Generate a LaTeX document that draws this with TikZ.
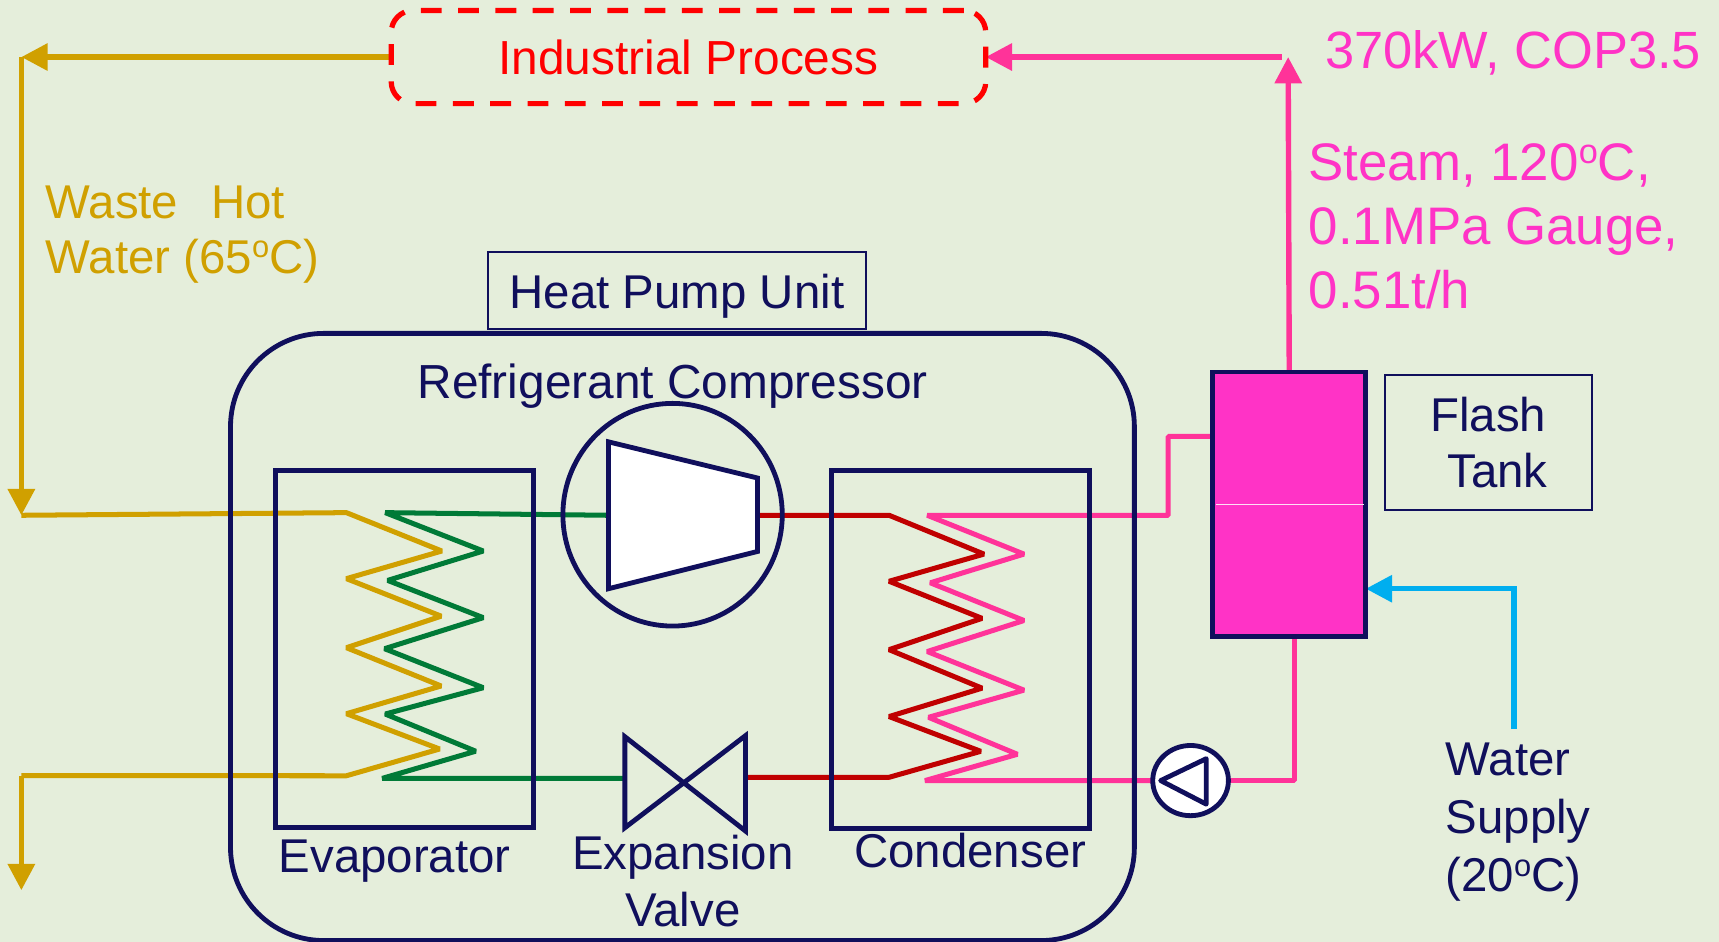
\documentclass[tikz,border=0pt]{standalone}
\usepackage{fontspec}
\setmainfont{Liberation Sans}
\usetikzlibrary{arrows.meta, shapes.geometric, backgrounds}
\definecolor{Bgcol}{HTML}{E5EEDB}
\definecolor{Navycol}{HTML}{100F5C}
\definecolor{Goldcol}{HTML}{D0A000}
\definecolor{Greencol}{HTML}{007A37}
\definecolor{Redcol}{HTML}{C00000}
\definecolor{Pipecol}{HTML}{FF3399}
\definecolor{Tankcol}{HTML}{FF33C6}
\definecolor{Bluecol}{HTML}{00AEEF}
\def\degsign{\raisebox{0.62ex}{\scalebox{0.65}{o}}}
\tikzset{
  tip/.style={-{Triangle[length=2.4mm,width=2.4mm]}},
  pipe/.style={line width=1.3pt, line join=bevel},
  mainline/.style={line width=1.4pt},
  shell/.style={draw=Navycol, line width=1.25pt, inner sep=0pt, outer sep=0pt},
  frame/.style={draw=Navycol, line width=0.5pt, inner sep=0pt, outer sep=0pt},
  lbl/.style={text=Navycol, inner sep=0pt, font=\fontsize{12.3}{14.5}\selectfont, align=center},
  bigl/.style={text=Tankcol, inner sep=0pt, font=\fontsize{13.7}{16.6}\selectfont, align=left, anchor=west},
}

\begin{document}
\begin{tikzpicture}[x=0.01cm, y=-0.01cm]
  \useasboundingbox (0,0) rectangle (1568,859);

  % equipment
  \node[shell, rounded corners=0.85cm, minimum width=8.24cm, minimum height=5.535cm] (unit) at (622.5,581) {};
  \node[shell, minimum width=2.355cm, minimum height=3.26cm] (evap) at (369,592) {};
  \node[shell, minimum width=2.355cm, minimum height=3.26cm] (cond) at (876,592.5) {};
  \node[shell, ellipse, minimum width=2cm, minimum height=2.03cm] (comp) at (613.5,469.5) {};
  \node[shell, ellipse, fill=white, minimum width=0.69cm, minimum height=0.64cm] (pump) at (1086,712) {};
  \node[shell, fill=Tankcol, minimum width=1.396cm, minimum height=2.412cm] (tank) at (1176,460) {};
  \node[draw=red, line width=1.35pt, dash pattern=on 1.9mm off 1.5mm, rounded corners=0.2cm, minimum width=5.42cm, minimum height=0.85cm, inner sep=0pt, outer sep=0pt, text=red, font=\fontsize{12.4}{14.5}\selectfont] (process) at (628,52) {Industrial Process};

  \draw[white!85!Tankcol, line width=0.4pt] (1109,460) -- (1244,460);
  \draw[shell, fill=white] (555,403) -- (691,436) -- (691,503) -- (555,537) -- cycle;
  \draw[shell, fill=white, line join=round] (1058.7,712) -- (1100.3,692) -- (1100.3,733.5) -- cycle;
  \draw[shell] (570,672) -- (570,755) -- (680,671) -- (680,758) -- cycle;

  % labels
  \node[frame, lbl, text height=0.32cm, text depth=0cm, minimum width=3.45cm, minimum height=0.7cm] (unitlabel) at (617.5,265) {Heat Pump Unit};
  \node[frame, lbl, minimum width=1.89cm, minimum height=1.23cm] (tanklabel) at (1357.5,403.5) {Flash\\\hspace*{0.17cm}Tank};
  \node[lbl, font=\fontsize{12.4}{14.5}\selectfont] (complabel) at (613.5,352) {Refrigerant Compressor};
  \node[lbl] (evaplabel) at (360,785) {Evaporator};
  \node[lbl, font=\fontsize{12.3}{14.8}\selectfont] (valvelabel) at (623,804) {Expansion\\Valve};
  \node[lbl] (condlabel) at (885,776) {Condenser};
  \node[lbl, align=left, anchor=west, font=\fontsize{12.3}{15.1}\selectfont] (waterlabel) at (1318,750) {Water\\Supply\\(20\degsign C)};
  \node[lbl, align=left, anchor=west, text=Goldcol, font=\fontsize{12.3}{14.2}\selectfont] (wastelabel) at (41,214) {Waste\hspace{0.3cm}Hot\\Water (65\degsign C)};
  \node[bigl, font=\fontsize{13.6}{16.6}\selectfont] (powerlabel) at (1208,48) {370kW, COP3.5};
  \node[bigl] (steamlabel) at (1193,206.5) {Steam, 120\degsign C,\\0.1MPa Gauge,\\0.51t/h};

  \coordinate (compin) at (555,470);
  \coordinate (compout) at (691,470);
  \coordinate (valvein) at (570,710);
  \coordinate (valveout) at (680,709);
  \coordinate (hottop) at (19.5,52);
  \coordinate (hotin) at (19.5,470);
  \coordinate (coldout) at (19.5,707.5);
  \coordinate (colddrain) at (19.5,812);
  \coordinate (steamtop) at (1175,52);
  \coordinate (steamend) at (1169,52);
  \coordinate (tankin) at (1106,398);
  \coordinate (tankdrain) at (1181,580);
  \coordinate (watersup) at (1381,665);
  \coordinate (watercorner) at (1381,537);

  \begin{scope}[on background layer]
    \fill[Bgcol] (0,0) rectangle (1568,859);

    % waste water
    \draw[mainline, Goldcol, tip] (process.west) -- (hottop);
    \draw[mainline, Goldcol, tip] (hottop) -- (hotin);
    \draw[pipe, Goldcol] (hotin) -- (316,467.6) -- (403,502.6) -- (316,527.8) -- (402.4,562) -- (316,590.8)
      -- (402.4,625.7) -- (316,651) -- (401,683.2) -- (316,707.6) -- (coldout);
    \draw[mainline, Goldcol, tip] (coldout) -- (colddrain);

    % evaporator side
    \draw[pipe, Greencol] (compin) -- (351.4,467.6) -- (440.8,502.6) -- (353.6,529.4) -- (440.8,563.4) -- (350.8,591.7)
      -- (440.8,627.3) -- (351.4,651.3) -- (433.9,685.2) -- (348.6,710) -- (valvein);

    % condenser side
    \draw[pipe, Redcol] (compout) -- (811,470) -- (897.5,505.4) -- (811,530.2) -- (895.8,564) -- (811,592.6)
      -- (895.8,627.7) -- (811,653.6) -- (894.6,685.3) -- (811,709) -- (valveout);
    \draw[pipe, Pipecol] (pump.west) -- (843.7,712) -- (928,688) -- (847,654.3) -- (934,629.5) -- (845.8,594.3)
      -- (934,566) -- (848.6,531.6) -- (934,505.4) -- (845.8,470) -- (1065.6,470) -- (1065.6,398) -- (tankin);
    \draw[pipe, Pipecol] (pump.east) -| (tankdrain);

    % steam and make-up water
    \draw[mainline, Pipecol, tip] (tank.north) -- (steamtop);
    \draw[mainline, Pipecol, tip] (steamend) -- (process.east);
    \draw[mainline, Bluecol, tip] (watersup) -- (watercorner) -- (watercorner -| tank.east);
  \end{scope}
\end{tikzpicture}
\end{document}
